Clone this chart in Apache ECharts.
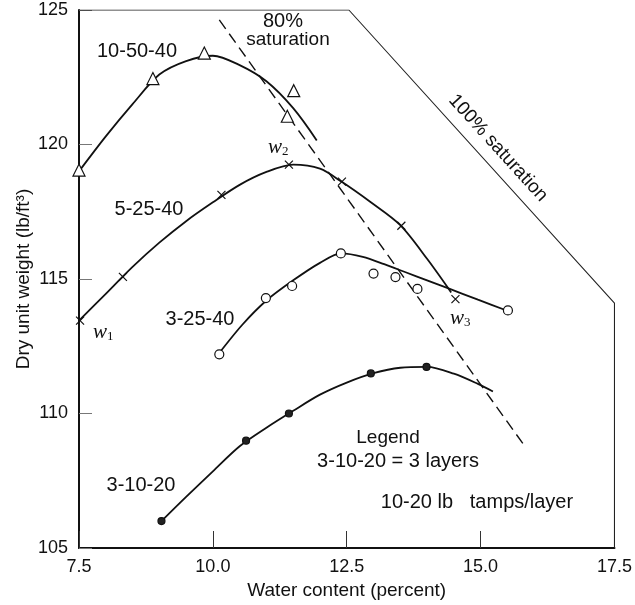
<!DOCTYPE html>
<html>
<head>
<meta charset="utf-8">
<script src="https://cdn.jsdelivr.net/npm/echarts@6/dist/echarts.min.js"></script>
<style>
  html, body { margin: 0; padding: 0; background: #fff; }
  #chart { width: 635px; height: 605px; }
</style>
</head>
<body>
<div id="chart"></div>
<script>
// axis ticks
var xTicks = [7.5, 10.0, 12.5, 15.0, 17.5];
var yTicks = [105, 110, 115, 120, 125];

// 10-50-40 : triangles and the drawn curve
var tri10x = [7.5, 8.88, 9.84, 11.51, 11.39];
var tri10y = [119.05, 122.45, 123.4, 122.0, 121.05];
var curve10x = [7.5, 8.0, 8.5, 9.0, 9.5, 10.0, 10.5, 11.0, 11.5, 11.94];
var curve10y = [119.0, 120.3, 121.5, 122.6, 123.1, 123.3, 122.95, 122.35, 121.35, 120.15];

// 5-25-40 : crosses
var cross5x = [7.52, 8.32, 10.16, 11.42, 12.41, 13.52, 14.53];
var cross5y = [113.45, 115.08, 118.13, 119.25, 118.62, 116.98, 114.25];
var curve5x = [7.5, 8.0, 8.5, 9.0, 9.5, 10.0, 10.5, 11.0, 11.5, 12.0, 12.4, 12.95, 13.5, 14.0, 14.45];
var curve5y = [113.45, 114.45, 115.45, 116.35, 117.15, 117.85, 118.5, 118.98, 119.25, 119.1, 118.62, 117.85, 117.0, 115.75, 114.5];

// 3-25-40 : open circles
var circ3x = [10.12, 10.99, 11.48, 12.39, 13.0, 13.41, 13.82, 15.51];
var circ3y = [112.2, 114.29, 114.74, 115.95, 115.2, 115.07, 114.63, 113.83];
var curve3x = [10.1, 10.55, 11.0, 11.5, 12.0, 12.4, 12.8, 13.2, 13.6, 14.0, 14.4, 14.95, 15.51];
var curve3y = [112.2, 113.3, 114.2, 114.95, 115.6, 115.95, 115.82, 115.55, 115.25, 114.95, 114.65, 114.23, 113.81];

// 3-10-20 : filled dots
var dot1x = [9.04, 10.62, 11.42, 12.95, 13.99];
var dot1y = [106.0, 108.99, 110.0, 111.49, 111.73];
var curve1x = [9.04, 9.5, 10.0, 10.5, 11.0, 11.5, 12.0, 12.5, 13.0, 13.5, 14.0, 14.5, 14.95, 15.23];
var curve1y = [106.0, 106.9, 107.85, 108.78, 109.47, 110.1, 110.7, 111.15, 111.5, 111.7, 111.73, 111.48, 111.1, 110.82];

// saturation lines
var sat80x = [10.12, 15.83];
var sat80y = [124.63, 108.77];
var frameX = [7.5, 12.54, 17.5, 17.5];   // top edge, 100% saturation, right edge
var frameY = [125, 125, 114.1, 105];

function zip(xs, ys) {
    var out = [];
    for (var i = 0; i < xs.length; i++) {
        out.push([xs[i], ys[i]]);
    }
    return out;
}

var FONT = '"Liberation Sans", Arial, sans-serif';
var crossPath = 'path://M0,0L10,10M10,0L0,10';

function curve(name, xs, ys) {
    return {
        name: name,
        type: 'line',
        data: zip(xs, ys),
        smooth: 0.3,
        showSymbol: false,
        silent: true,
        lineStyle: { color: '#111', width: 1.8 },
        z: 3
    };
}

function marks(name, xs, ys, symbol, size, fill, border) {
    return {
        name: name,
        type: 'scatter',
        data: zip(xs, ys),
        symbol: symbol,
        symbolSize: size,
        itemStyle: { color: fill, borderColor: border, borderWidth: 1.2, opacity: 1 },
        z: 5
    };
}

function label(text, x, y, size, extra) {
    var el = {
        type: 'text',
        x: x,
        y: y,
        z: 10,
        style: {
            text: text,
            font: size + 'px ' + FONT,
            fill: '#111',
            align: 'center',
            verticalAlign: 'middle'
        }
    };
    if (extra) {
        for (var k in extra) {
            el[k] = extra[k];
        }
    }
    return el;
}

function wLabel(sub, x, y) {
    return {
        type: 'text',
        x: x,
        y: y,
        z: 10,
        style: {
            text: '{w|w}{s|' + sub + '}',
            align: 'left',
            verticalAlign: 'middle',
            rich: {
                w: { font: 'italic 21px "Liberation Serif", serif', fill: '#111' },
                s: { font: '13px "Liberation Serif", serif', fill: '#111', verticalAlign: 'bottom', padding: [9, 0, 0, 0] }
            }
        }
    };
}

var chart = echarts.init(document.getElementById('chart'));
var options = {
    animation: false,
    backgroundColor: '#fff',
    grid: {
        left: 79,
        right: 18,
        top: 10,
        bottom: 57,
        containLabel: false
    },
    xAxis: {
        type: 'value',
        min: xTicks[0],
        max: xTicks[xTicks.length - 1],
        interval: 2.5,
        name: 'Water content (percent)',
        nameLocation: 'middle',
        nameGap: 33,
        nameTextStyle: { fontFamily: FONT, fontSize: 19, color: '#111' },
        axisLine: { lineStyle: { color: '#111', width: 2 } },
        axisTick: { inside: true, length: 17, lineStyle: { color: '#333', width: 1 } },
        axisLabel: {
            fontFamily: FONT, fontSize: 18, color: '#111', margin: 10,
            formatter: function (v) { return v.toFixed(1); }
        },
        splitLine: { show: false }
    },
    yAxis: {
        type: 'value',
        min: yTicks[0],
        max: yTicks[yTicks.length - 1],
        interval: 5,
        name: 'Dry unit weight (lb/ft\u00b3)',
        nameLocation: 'middle',
        nameGap: 46,
        nameMoveOverlap: false,
        nameTextStyle: { fontFamily: FONT, fontSize: 19, color: '#111' },
        axisLine: { lineStyle: { color: '#111', width: 2 } },
        axisTick: { inside: true, length: 13, lineStyle: { color: '#777', width: 1 } },
        axisLabel: { fontFamily: FONT, fontSize: 18, color: '#111', margin: 11 },
        splitLine: { show: false }
    },
    series: [
        {
            name: 'frame',
            type: 'line',
            data: zip(frameX, frameY),
            showSymbol: false,
            silent: true,
            lineStyle: { color: '#222', width: 1.1 },
            z: 2
        },
        {
            name: '80% saturation',
            type: 'line',
            data: zip(sat80x, sat80y),
            showSymbol: false,
            silent: true,
            lineStyle: { color: '#111', width: 1.4, type: [11, 6] },
            z: 2
        },
        curve('10-50-40', curve10x, curve10y),
        curve('5-25-40', curve5x, curve5y),
        curve('3-25-40', curve3x, curve3y),
        curve('3-10-20', curve1x, curve1y),
        marks('10-50-40 pts', tri10x, tri10y, 'triangle', 12, '#fff', '#111'),
        marks('5-25-40 pts', cross5x, cross5y, crossPath, 8, 'none', '#111'),
        marks('3-25-40 pts', circ3x, circ3y, 'circle', 9, '#fff', '#111'),
        marks('3-10-20 pts', dot1x, dot1y, 'circle', 7, '#222', '#111')
    ],
    graphic: [
        label('80%', 283, 21, 20),
        label('saturation', 288, 40, 19),
        label('10-50-40', 137, 51, 20),
        label('5-25-40', 149, 209, 20),
        label('3-25-40', 200, 319, 20),
        label('3-10-20', 141, 485, 20),
        label('100% saturation', 498, 148, 19, { rotation: -0.833 }),
        label('Legend', 388, 438, 19),
        label('3-10-20 = 3 layers', 398, 461, 20),
        label('10-20 lb   tamps/layer', 477, 502, 20),
        wLabel('1', 93, 332),
        wLabel('2', 268, 147),
        wLabel('3', 450, 318)
    ]
};
chart.setOption(options);
window.onresize = function () {
    chart.resize();
};
</script>
</body>
</html>
